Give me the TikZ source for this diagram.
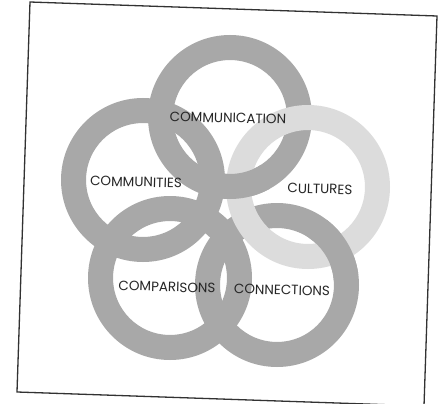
\documentclass[tikz,border=0pt]{standalone}
\usepackage{fontspec}
\setmainfont{Poppins}
\definecolor{ringgray}{RGB}{168,168,168}
\definecolor{cultgray}{RGB}{220,220,220}
\definecolor{framecol}{RGB}{50,50,50}
\begin{document}
\begin{tikzpicture}[x=1pt,y=-1pt,
  ringband/.style={fill=ringgray,even odd rule},
  cultband/.style={fill=cultgray,even odd rule},
  framestyle/.style={draw=framecol,line width=1.3pt,line join=miter},
  lbl/.style={font=\fontsize{13.5}{13.5}\selectfont,text=black!85,inner sep=0pt,rotate=-1.5}]
\useasboundingbox (0,0) rectangle (445,404);
\fill[white] (0,0) rectangle (445,404);
\clip (0,0) rectangle (445,404);
% ring centres
\coordinate (cComm) at (230,117);
\coordinate (cCmty) at (143,180);
\coordinate (cCult) at (308,187);
\coordinate (cComp) at (170,278);
\coordinate (cConn) at (277,285);
% crossings where grey ring lies over Cultures
\coordinate (xCommCult) at (238,187);
\coordinate (xConnCult) at (338,250);
% frame
\coordinate (f1) at (30,2);
\coordinate (f2) at (437,16);
\coordinate (f3) at (424,406);
\coordinate (f4) at (17,392);
\draw[framestyle] (f1) -- (f2) -- (f3) -- (f4) -- cycle;
% grey rings
\foreach \c in {cComm,cCmty,cComp,cConn}
  \fill[ringband] (\c) circle (82) (\c) circle (57);
% cultures ring on top
\fill[cultband] (cCult) circle (82) (cCult) circle (57);
% interlock: grey over cultures
\begin{scope}
  \clip (xCommCult) circle (32);
  \fill[ringband] (cComm) circle (82) (cComm) circle (57);
\end{scope}
\begin{scope}
  \clip (xConnCult) circle (32);
  \fill[ringband] (cConn) circle (82) (cConn) circle (57);
\end{scope}
% labels
\node[lbl] (lComm) at (228,118) {COMMUNICATION};
\node[lbl] (lCmty) at (136,182) {COMMUNITIES};
\node[lbl] (lCult) at (320,189) {CULTURES};
\node[lbl] (lComp) at (167,287) {COMPARISONS};
\node[lbl] (lConn) at (282,290) {CONNECTIONS};
\end{tikzpicture}
\end{document}
